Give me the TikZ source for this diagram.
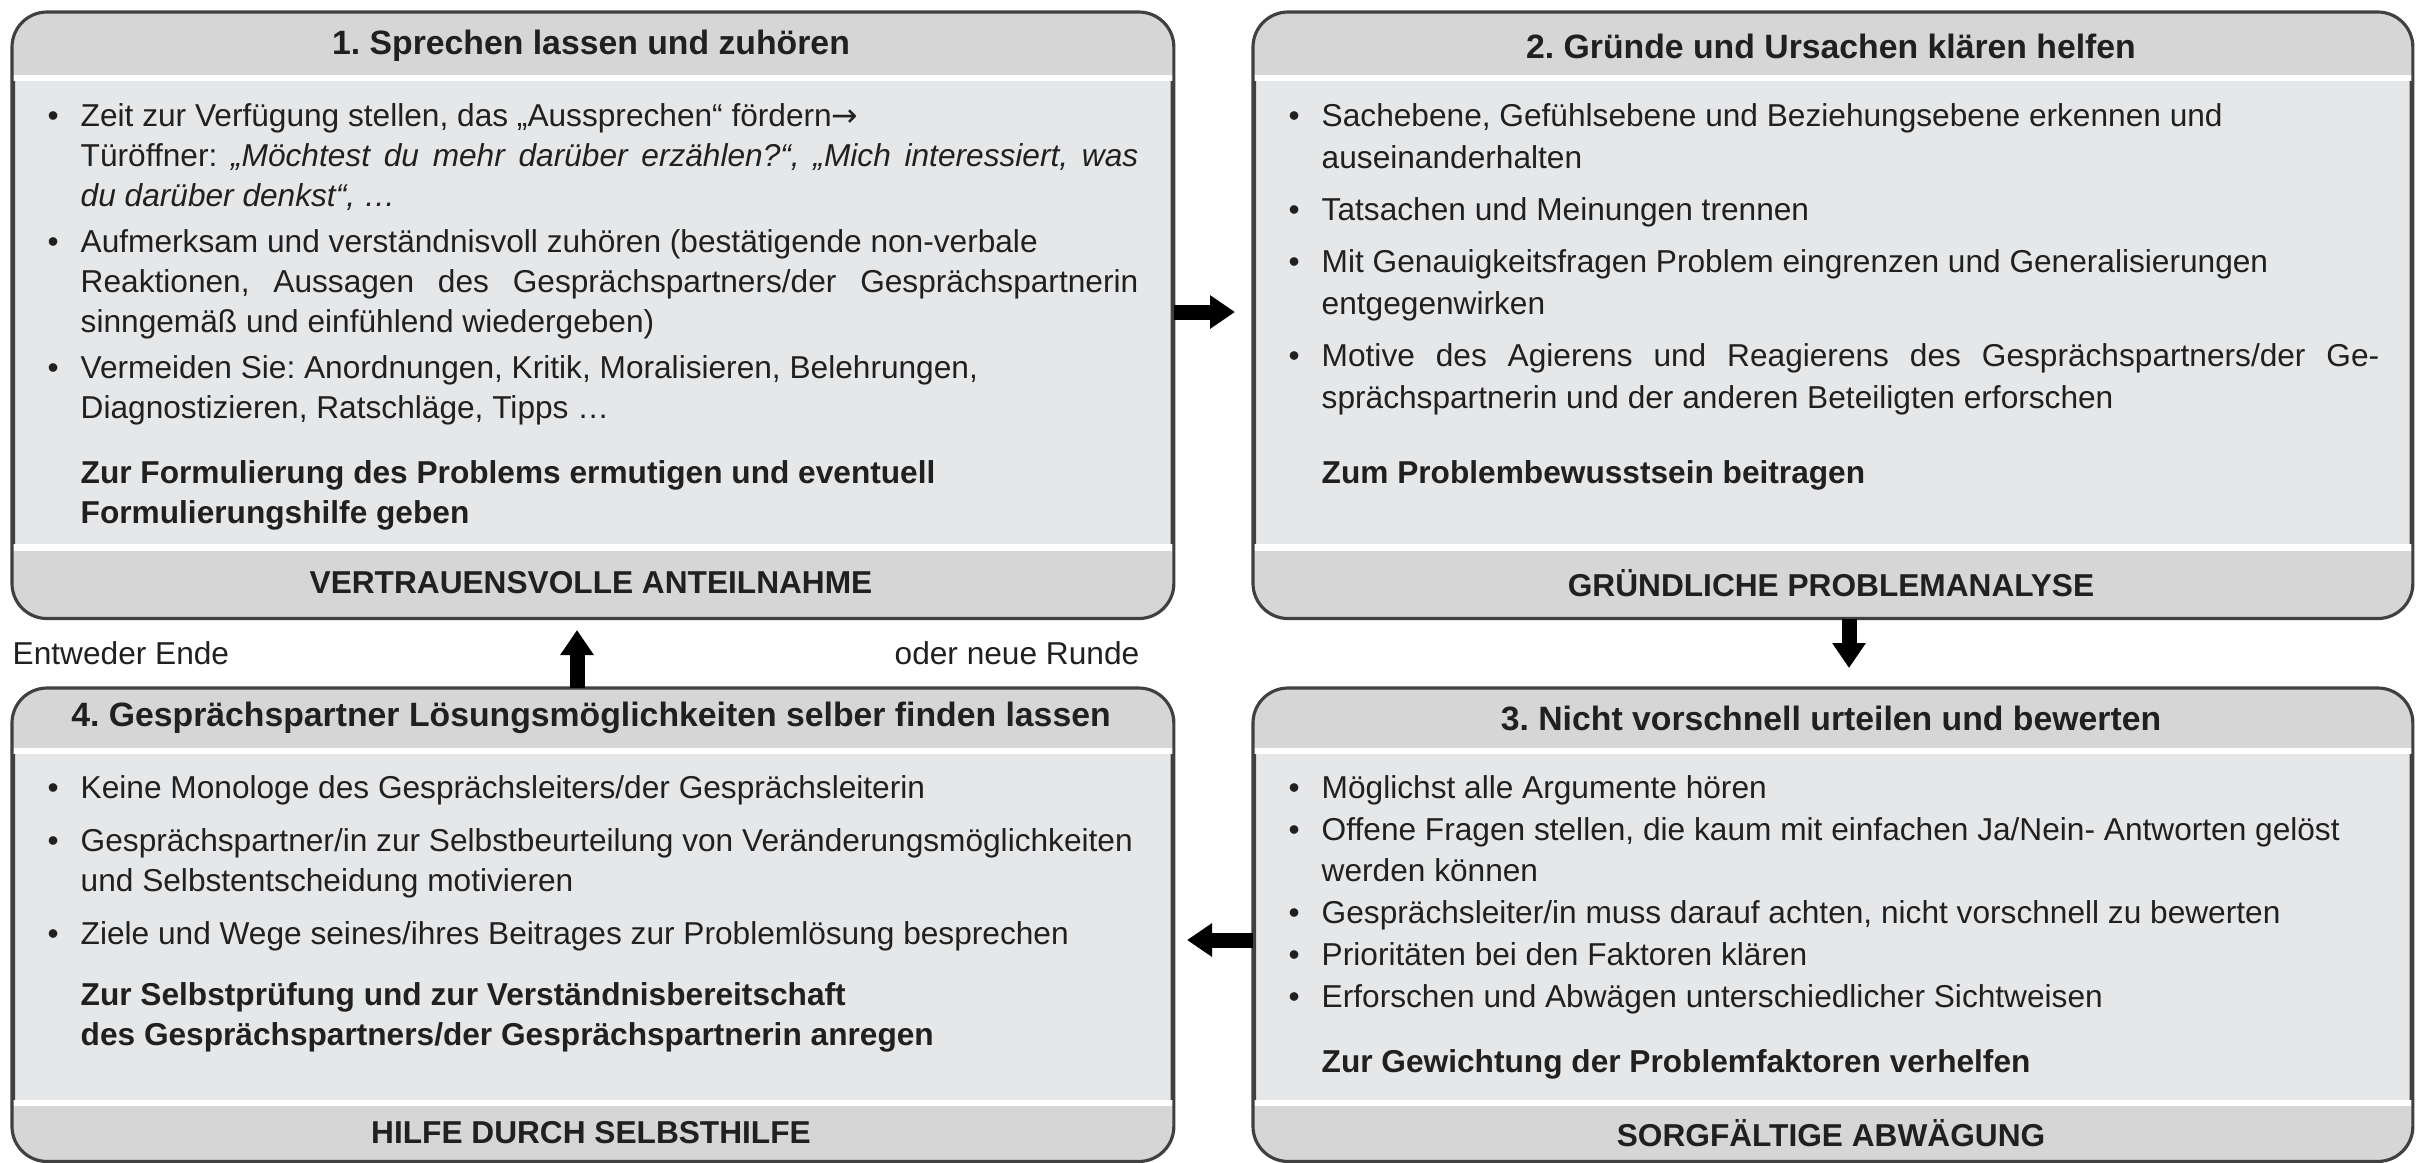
\documentclass[tikz,border=0pt]{standalone}
\usepackage{fontspec}
\setmainfont{Liberation Sans}
\newfontfamily\pfeilfont{DejaVu Sans}
\usetikzlibrary{arrows.meta}
\definecolor{rand}{HTML}{404040}
\definecolor{kopf}{HTML}{D6D6D6}
\definecolor{koerper}{HTML}{E6E7E9}
\definecolor{schrift}{HTML}{202020}
\newcommand\punkt[1]{\hangindent=0.33cm\hangafter=1\makebox[0.33cm][l]{\textbullet}#1\par}
\tolerance=9999
\frenchspacing
\begin{document}
\begin{tikzpicture}[x=0.01cm, y=-0.01cm, >={Triangle[width=0.32cm,length=0.25cm]},
  kasten/.style={draw=rand, line width=0.9pt, rounded corners=0.35cm, fill=koerper, inner sep=0pt, anchor=north west},
  titel/.style={font=\fontsize{9.6}{11}\selectfont\bfseries, text=schrift, inner sep=0pt},
  fuss/.style={font=\fontsize{9}{11}\selectfont\bfseries, text=schrift, inner sep=0pt},
  inhalt/.style={anchor=base west, text width=10.9cm, align=justify, inner sep=0pt, text=schrift},
  notiz/.style={font=\fontsize{9}{11}\selectfont, text=schrift, inner sep=0pt},
  pfeil/.style={->, line width=0.15cm, black}]
\useasboundingbox (0,0) rectangle (2418,1162);

% Kaesten
\node[kasten, minimum width=11.58cm, minimum height=6.03cm] (b1) at (12,12) {};
\node[kasten, minimum width=11.56cm, minimum height=6.03cm] (b2) at (1253,12) {};
\node[kasten, minimum width=11.56cm, minimum height=4.70cm] (b3) at (1253,688) {};
\node[kasten, minimum width=11.58cm, minimum height=4.70cm] (b4) at (12,688) {};

% Kopf- und Fussbaender
\foreach \b/\k/\f in {b1/0.63/0.68, b2/0.63/0.68, b3/0.60/0.55, b4/0.60/0.55} {
  \begin{scope}
    \clip[rounded corners=0.35cm] (\b.south west) rectangle (\b.north east);
    \fill[kopf] (\b.north west) rectangle ([yshift=-\k cm]\b.north east);
    \fill[white] ([yshift=-\k cm]\b.north west) rectangle ([yshift={-(\k+0.06)*1cm}]\b.north east);
    \fill[kopf] (\b.south west) rectangle ([yshift=\f cm]\b.south east);
    \fill[white] ([yshift=\f cm]\b.south west) rectangle ([yshift={(\f+0.06)*1cm}]\b.south east);
  \end{scope}
  \draw[rand, line width=0.9pt, rounded corners=0.35cm] (\b.south west) rectangle (\b.north east);
}

% Ueberschriften
\node[titel] (t1) at (591,46) {1. Sprechen lassen und zuhören};
\node[titel] (t2) at (1831,46) {2. Gründe und Ursachen klären helfen};
\node[titel] (t3) at (1831,718) {3. Nicht vorschnell urteilen und bewerten};
\node[titel] (t4) at (591,718) {4. Gesprächspartner Lösungsmöglichkeiten selber finden lassen};

% Inhalte
\node[inhalt, font=\fontsize{9}{11.4}\selectfont] (k1) at (47,126) {\setlength\parskip{0.06cm}%
  \punkt{Zeit zur Verfügung stellen, das „Aussprechen“ fördern{\pfeilfont →}\newline Türöffner: \textit{„Möchtest du mehr darüber erzählen?“, „Mich interessiert, was}\linebreak \textit{du darüber denkst“, …}}%
  \punkt{Aufmerksam und verständnisvoll zuhören (bestätigende non-verbale\newline Reaktionen, Aussagen des Gesprächspartners/der Gesprächspartnerin\linebreak sinngemäß und einfühlend wiedergeben)}%
  \punkt{Vermeiden Sie: Anordnungen, Kritik, Moralisieren, Belehrungen,\newline Diagnostizieren, Ratschläge, Tipps …}%
  \vspace{0.19cm}%
  {\leftskip=0.33cm\bfseries Zur Formulierung des Problems ermutigen und eventuell\newline Formulierungshilfe geben\par}};
\node[inhalt, font=\fontsize{9}{11.95}\selectfont] (k2) at (1288,126) {\setlength\parskip{0.10cm}%
  \punkt{Sachebene, Gefühlsebene und Beziehungsebene erkennen und\newline auseinanderhalten}%
  \punkt{Tatsachen und Meinungen trennen}%
  \punkt{Mit Genauigkeitsfragen Problem eingrenzen und Generalisierungen\newline entgegenwirken}%
  \punkt{Motive des Agierens und Reagierens des Gesprächspartners/der Ge-\linebreak sprächspartnerin und der anderen Beteiligten erforschen}%
  \vspace{0.23cm}%
  {\leftskip=0.33cm\bfseries Zum Problembewusstsein beitragen\par}};
\node[inhalt, font=\fontsize{9}{11.66}\selectfont] (k3) at (1288,798) {\setlength\parskip{0.01cm}%
  \punkt{Möglichst alle Argumente hören}%
  \punkt{Offene Fragen stellen, die kaum mit einfachen Ja/Nein- Antworten gelöst\newline werden können}%
  \punkt{Gesprächsleiter/in muss darauf achten, nicht vorschnell zu bewerten}%
  \punkt{Prioritäten bei den Faktoren klären}%
  \punkt{Erforschen und Abwägen unterschiedlicher Sichtweisen}%
  \vspace{0.23cm}%
  {\leftskip=0.33cm\bfseries Zur Gewichtung der Problemfaktoren verhelfen\par}};
\node[inhalt, font=\fontsize{9}{11.4}\selectfont] (k4) at (47,798) {\setlength\parskip{0.13cm}%
  \punkt{Keine Monologe des Gesprächsleiters/der Gesprächsleiterin}%
  \punkt{\mbox{Gesprächspartner/in zur Selbstbeurteilung von Veränderungsmöglichkeiten}\newline und Selbstentscheidung motivieren}%
  \punkt{Ziele und Wege seines/ihres Beitrages zur Problemlösung besprechen}%
  \vspace{0.08cm}%
  {\leftskip=0.33cm\bfseries Zur Selbstprüfung und zur Verständnisbereitschaft\newline des Gesprächspartners/der Gesprächspartnerin anregen\par}};

% Fusszeilen
\node[fuss] (f1) at (591,583) {VERTRAUENSVOLLE ANTEILNAHME};
\node[fuss] (f2) at (1831,583) {GRÜNDLICHE PROBLEMANALYSE};
\node[fuss] (f3) at (1831,1133) {SORGFÄLTIGE ABWÄGUNG};
\node[fuss] (f4) at (591,1133) {HILFE DURCH SELBSTHILFE};

% Pfeile
\coordinate (p12) at (1235,312);
\coordinate (p23) at (1849,668);
\coordinate (p34) at (1187,940);
\coordinate (p41) at (577,630);
\draw[pfeil] (p12 -| b1.east) -- (p12);
\draw[pfeil] (p23 |- b2.south) -- (p23);
\draw[pfeil] (p34 -| b3.west) -- (p34);
\draw[pfeil] (p41 |- b4.north) -- (p41);

\node[notiz, anchor=west] (n1) at (12,653) {Entweder Ende};
\node[notiz, anchor=east] (n2) at (1140,653) {oder neue Runde};
\end{tikzpicture}
\end{document}
